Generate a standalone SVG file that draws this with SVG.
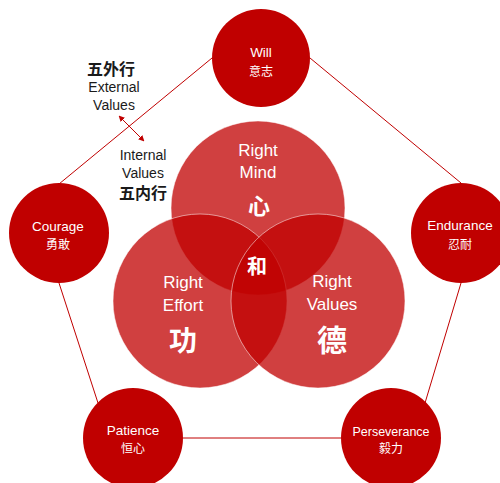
<svg xmlns="http://www.w3.org/2000/svg" width="500" height="483" viewBox="0 0 500 483">
<defs>
<marker id="ah" viewBox="0 0 10 10" refX="9" refY="5" markerWidth="6" markerHeight="6" orient="auto-start-reverse" markerUnits="userSpaceOnUse">
<path d="M0,0 L10,5 L0,10 z" fill="#c00000"/>
</marker>
<style>
.outer{fill:#c00000;}
.venn{fill:#c00000;fill-opacity:0.75;stroke:#ffffff;stroke-opacity:0.5;stroke-width:1;}
.lbl{font-family:"Liberation Sans","Noto Sans CJK SC",sans-serif;fill:#ffffff;text-anchor:middle;}
.ot{font-size:13.5px;}
.oc{font-size:12px;font-family:"Noto Sans CJK SC",sans-serif;}
.vt{font-size:17px;}
.dark{font-family:"Liberation Sans","Noto Sans CJK SC",sans-serif;fill:#1a1a1a;text-anchor:middle;font-size:14px;}
.cjk{font-family:"Noto Sans CJK SC",sans-serif;font-weight:bold;}
.conn{stroke:#c00000;stroke-width:1;fill:none;}
</style>
</defs>
<rect width="500" height="483" fill="#ffffff"/>
<g id="connectors">
<line class="conn" x1="59" y1="184" x2="212" y2="58"/>
<line class="conn" x1="310" y1="58" x2="461" y2="183"/>
<line class="conn" x1="461" y1="283" x2="425" y2="403"/>
<line class="conn" x1="183" y1="438" x2="341" y2="438"/>
<line class="conn" x1="59" y1="283" x2="98" y2="403"/>
<line class="conn" x1="119" y1="116" x2="144" y2="141" marker-start="url(#ah)" marker-end="url(#ah)"/>
</g>
<g id="will">
<circle class="outer" cx="261" cy="58" r="49"/>
<text class="lbl ot" x="261" y="57">Will</text>
<text class="lbl oc" x="261" y="76">意志</text>
</g>
<g id="courage">
<circle class="outer" cx="59" cy="233" r="50"/>
<text class="lbl ot" x="58" y="231">Courage</text>
<text class="lbl oc" x="58" y="249">勇敢</text>
</g>
<g id="endurance">
<circle class="outer" cx="461" cy="233" r="50"/>
<text class="lbl ot" x="460" y="230">Endurance</text>
<text class="lbl oc" x="460" y="249">忍耐</text>
</g>
<g id="patience">
<circle class="outer" cx="133" cy="438" r="50"/>
<text class="lbl ot" x="133" y="435">Patience</text>
<text class="lbl oc" x="133" y="453">恒心</text>
</g>
<g id="perseverance">
<circle class="outer" cx="391" cy="438" r="50"/>
<text class="lbl ot" x="391" y="436" style="font-size:12.5px">Perseverance</text>
<text class="lbl oc" x="391" y="453">毅力</text>
</g>
<g id="right-mind">
<circle class="venn" cx="258" cy="208" r="87"/>
</g>
<g id="right-effort">
<circle class="venn" cx="200" cy="301" r="87"/>
</g>
<g id="right-values">
<circle class="venn" cx="318" cy="301" r="87"/>
</g>
<g id="venn-labels">
<text class="lbl vt" x="258" y="156">Right</text>
<text class="lbl vt" x="258" y="178">Mind</text>
<text class="lbl cjk" x="259" y="214" style="font-size:22px">心</text>
<text class="lbl vt" x="183" y="288">Right</text>
<text class="lbl vt" x="183" y="311">Effort</text>
<text class="lbl cjk" x="183" y="351" style="font-size:28px">功</text>
<text class="lbl vt" x="332" y="287">Right</text>
<text class="lbl vt" x="332" y="310">Values</text>
<text class="lbl cjk" x="332" y="351" style="font-size:30px">德</text>
<text class="lbl cjk" x="257" y="274" style="font-size:20px">和</text>
</g>
<g id="external-values">
<text class="dark cjk" x="111" y="75" style="font-size:16px">五外行</text>
<text class="dark" x="114" y="92">External</text>
<text class="dark" x="114" y="110">Values</text>
</g>
<g id="internal-values">
<text class="dark" x="143" y="160">Internal</text>
<text class="dark" x="143" y="178">Values</text>
<text class="dark cjk" x="143" y="199" style="font-size:16px">五内行</text>
</g>
</svg>
